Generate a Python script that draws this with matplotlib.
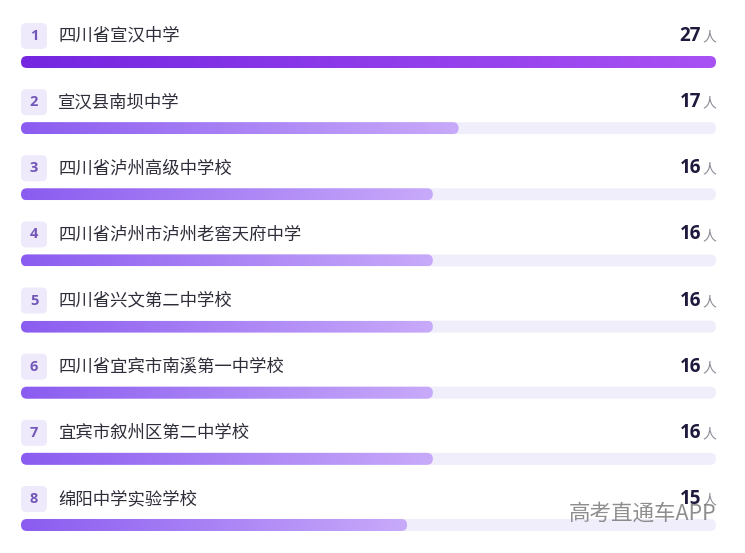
import numpy as np
import matplotlib.pyplot as plt
import matplotlib.transforms as mtransforms
from matplotlib.patches import FancyBboxPatch
from matplotlib.colors import LinearSegmentedColormap

plt.rcParams['font.family'] = ['Noto Sans CJK SC', 'DejaVu Sans']

# data
ranks = [1, 2, 3, 4, 5, 6, 7, 8]
schools = ["四川省宣汉中学", "宣汉县南坝中学", "四川省泸州高级中学校", "四川省泸州市泸州老窖天府中学",
           "四川省兴文第二中学校", "四川省宜宾市南溪第一中学校", "宜宾市叙州区第二中学校", "绵阳中学实验学校"]
counts = [27, 17, 16, 16, 16, 16, 16, 15]
unit = "人"

W, H = 745, 553
X0, X1 = 21, 716          # px span of the full track
ROW0, PITCH = 62, 66.14   # px centre of first bar, row spacing
BAR_H = 12                # px

vmax = max(counts)
px_x = (X1 - X0) / vmax   # px per value unit
fig = plt.figure(figsize=(W / 100, H / 100), dpi=100)
ax = fig.add_axes([0, 0, 1, 1])
ax.set_xlim(-X0 / px_x, (W - X0) / px_x)
ax.set_ylim((H - ROW0) / PITCH, -ROW0 / PITCH)
ax.axis('off')

h = BAR_H / PITCH
asp = px_x / PITCH        # y-units per x-unit for equal pixel sizes
rnd = (BAR_H / 2) / px_x

cm_top = LinearSegmentedColormap.from_list('top', ['#7426e0', '#a851f4'])
cm_rest = LinearSegmentedColormap.from_list('rest', ['#8b5cf0', '#c8aafa'])
grad = np.linspace(0, 1, 256).reshape(1, -1)
num_font = ['Open Sans', 'DejaVu Sans']

for i, (r, name, v) in enumerate(zip(ranks, schools, counts)):
    # background track
    track = FancyBboxPatch((0, i - h / 2), vmax, h,
                           boxstyle=f"round,pad=0,rounding_size={rnd}",
                           mutation_aspect=asp, fc='#f1eefb', ec='none', zorder=1)
    ax.add_patch(track)
    # gradient bar
    clip = FancyBboxPatch((0, i - h / 2), v, h,
                          boxstyle=f"round,pad=0,rounding_size={rnd}",
                          mutation_aspect=asp, fc='none', ec='none')
    ax.add_patch(clip)
    im = ax.imshow(grad, extent=(0, v, i + h / 2, i - h / 2), aspect='auto',
                   cmap=cm_top if i == 0 else cm_rest, zorder=2, interpolation='bilinear')
    im.set_clip_path(clip)

    ty = i - 26 / PITCH
    # rank badge
    bw = 26 / px_x
    bh = 26 / PITCH
    badge = FancyBboxPatch((0, ty - bh / 2), bw, bh,
                           boxstyle=f"round,pad=0,rounding_size={5 / px_x}",
                           mutation_aspect=asp, fc='#eee9fb', ec='none', zorder=3)
    ax.add_patch(badge)
    ax.text(bw / 2, ty, str(r), ha='center', va='center', fontsize=10.5,
            fontweight='bold', color='#7256b8', family=num_font, zorder=4)
    ax.text(37 / px_x, ty, name, ha='left', va='center', fontsize=12.5,
            color='#2e2e3a', zorder=4)

    # value + unit on the right
    tr = mtransforms.blended_transform_factory(ax.transAxes, ax.transData)
    ax.text(X1 / W, ty + 1.5 / PITCH, unit, transform=tr, ha='right', va='center',
            fontsize=10, color='#8a8a96', zorder=4)
    ax.text((X1 - 15) / W, ty, str(v), transform=tr, ha='right', va='center',
            fontsize=13.5, fontweight='bold', color='#1f1a3d',
            family=num_font, zorder=4)

# watermark
fig.text(716 / W, 1 - 514 / H, "高考直通车APP", ha='right', va='center',
         fontsize=15.5, color='#7a7a7a', alpha=0.85, zorder=10)

fig.savefig('out.png', dpi=100, facecolor='white')
